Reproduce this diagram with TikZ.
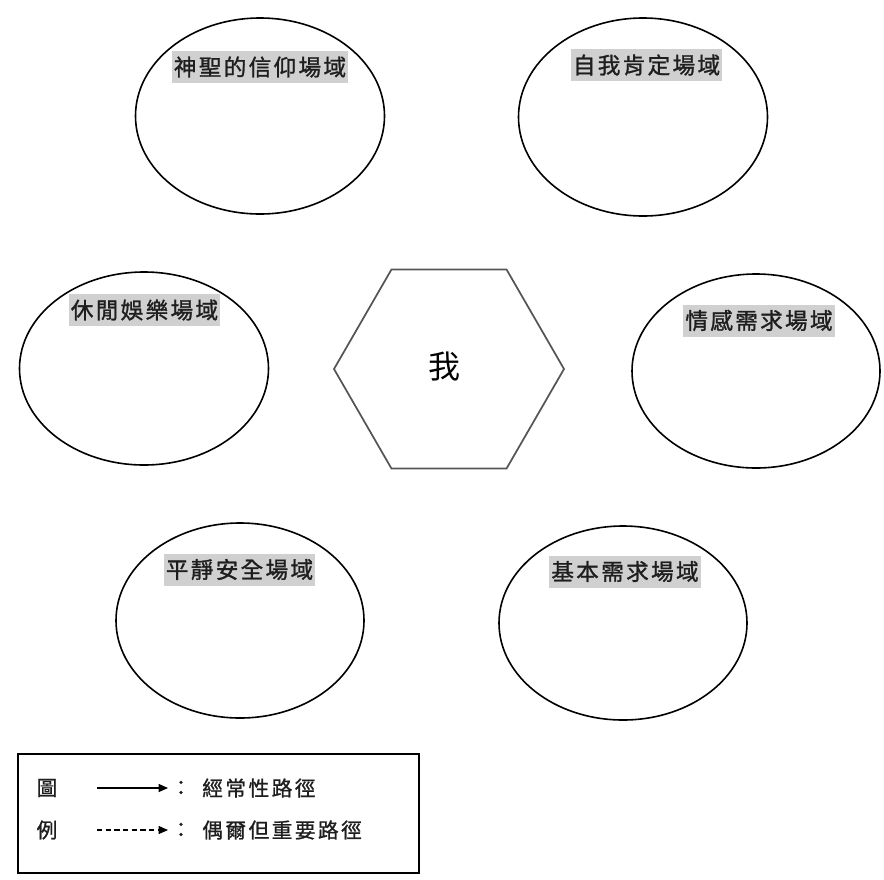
\documentclass[tikz,border=0pt]{standalone}
\usepackage{fontspec}
\newfontfamily\cjk{Noto Sans CJK TC}
\newfontfamily\cjksp[LetterSpace=10,FakeBold=1.2]{Noto Sans CJK TC}
\newfontfamily\cjklg[LetterSpace=12,FakeBold=1]{Noto Sans CJK TC}
\usetikzlibrary{shapes.geometric,arrows.meta}
\definecolor{hl}{RGB}{208,208,208}
\definecolor{ink}{RGB}{30,30,30}
\definecolor{hexline}{RGB}{85,85,85}
\tikzset{
  field/.style={draw=black, line width=1.2pt, ellipse, inner sep=0pt, outer sep=0pt},
  fieldlabel/.style={fill=hl, text=ink, font=\cjksp\fontsize{17pt}{17pt}\selectfont, inner xsep=1.5pt, minimum height=24pt, inner ysep=0pt},
  legendtext/.style={text=ink, font=\cjklg\fontsize{15.5pt}{16pt}\selectfont, inner sep=0pt},
  legarrow/.style={line width=0.8pt, -{Triangle[length=7pt,width=6pt]}},
}
\begin{document}
\begin{tikzpicture}[x=0.75pt,y=-0.75pt]
\useasboundingbox[fill=white] (0,0) rectangle (884,879);
% fields
\node[field, minimum width=186.75pt, minimum height=147pt] (sacred) at (260,116) {};
\node[field, minimum width=186.75pt, minimum height=148.5pt] (self) at (643,117) {};
\node[field, minimum width=186.75pt, minimum height=144.75pt] (leisure) at (144,368.5) {};
\node[field, minimum width=186pt, minimum height=145.5pt] (emotion) at (756,371) {};
\node[field, minimum width=186pt, minimum height=146.25pt] (calm) at (240,620.5) {};
\node[field, minimum width=186pt, minimum height=145.5pt] (basic) at (623,623) {};
% labels
\node[fieldlabel] (sacredL) at (260,67) {神聖的信仰場域};
\node[fieldlabel] (selfL) at (646.5,65) {自我肯定場域};
\node[fieldlabel] (leisureL) at (144.5,310) {休閒娛樂場域};
\node[fieldlabel] (emotionL) at (759,320.5) {情感需求場域};
\node[fieldlabel] (calmL) at (239.5,569.5) {平靜安全場域};
\node[fieldlabel] (basicL) at (625,571.5) {基本需求場域};
% self hexagon
\node[regular polygon, regular polygon sides=6, draw=hexline, line width=1.3pt,
      minimum size=172.5pt, inner sep=0pt, outer sep=0pt] (me) at (449,369) {};
\node[text=black, font=\cjk\fontsize{24pt}{24pt}\selectfont, inner sep=0pt] (meT) at (444,367) {我};
% legend
\node[draw=black, line width=1pt, minimum width=300.75pt, minimum height=89.25pt, inner sep=0pt] (legend) at (218.5,813.5) {};
\node[legendtext] (tu) at (47,788) {圖};
\node[legendtext] (li) at (47,830) {例};
\coordinate (a1s) at (97,788);
\coordinate (a1e) at (168,788);
\coordinate (a2s) at (97,830);
\coordinate (a2e) at (168,830);
\draw[legarrow] (a1s) -- (a1e);
\draw[legarrow, dash pattern=on 4pt off 2.5pt] (a2s) -- (a2e);
\node[legendtext] (c1) at (181,788) {：};
\node[legendtext] (c2) at (181,830) {：};
\node[legendtext, anchor=west] (t1) at (202,788) {經常性路徑};
\node[legendtext, anchor=west] (t2) at (202,830) {偶爾但重要路徑};
\end{tikzpicture}
\end{document}
